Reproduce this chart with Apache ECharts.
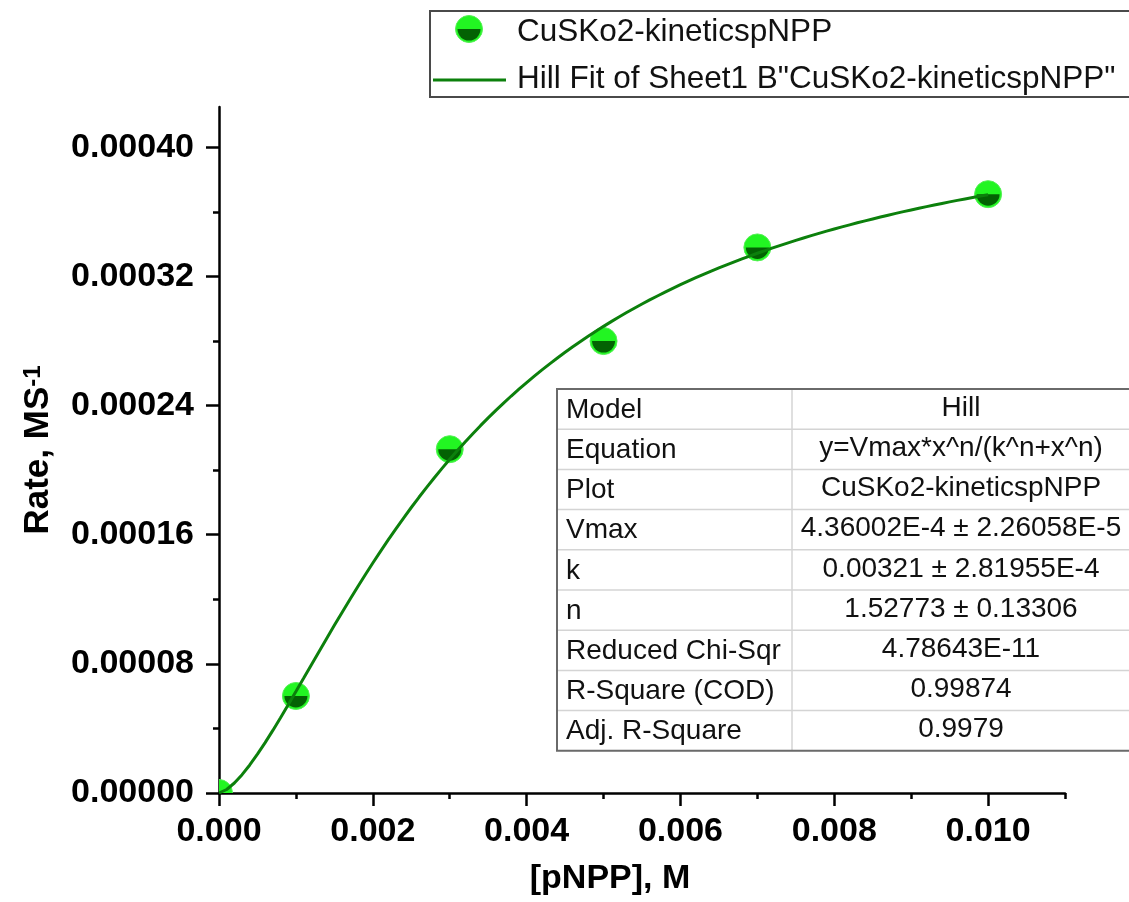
<!DOCTYPE html>
<html>
<head>
<meta charset="utf-8">
<title>Hill fit – CuSKo2 kinetics with pNPP</title>
<script src="https://cdn.jsdelivr.net/npm/echarts@6/dist/echarts.min.js"></script>
<style>
  html, body { margin: 0; padding: 0; background: #fff; }
  #chart { width: 1129px; height: 902px; }
</style>
</head>
<body>
<div id="chart"></div>
<script>
// Measured substrate concentrations [pNPP] (M) and initial rates (M/s)
const substrateConc = [0, 0.001, 0.003, 0.005, 0.007, 0.010];
const rates = [0, 0.0000601, 0.000213, 0.000280, 0.000338, 0.000371];

// Hill fit parameters (y = Vmax*x^n/(k^n+x^n))
const VMAX = 4.36002e-4;
const K_HALF = 0.00321;
const HILL_N = 1.52773;
const FIT_STEP = 0.0001;

// Axis ticks and their labels
const xMajorTicks = [0, 0.002, 0.004, 0.006, 0.008, 0.010];
const xMinorTicks = [0.001, 0.003, 0.005, 0.007, 0.009, 0.011];
const xTickLabels = ['0.000', '0.002', '0.004', '0.006', '0.008', '0.010'];
const yMajorTicks = [0, 0.00008, 0.00016, 0.00024, 0.00032, 0.00040];
const yMinorTicks = [0.00004, 0.00012, 0.00020, 0.00028, 0.00036];
const yTickLabels = ['0.00000', '0.00008', '0.00016', '0.00024', '0.00032', '0.00040'];

// Fit report table
const tableLabels = ['Model', 'Equation', 'Plot', 'Vmax', 'k', 'n',
  'Reduced Chi-Sqr', 'R-Square (COD)', 'Adj. R-Square'];
const tableValues = ['Hill', 'y=Vmax*x^n/(k^n+x^n)', 'CuSKo2-kineticspNPP',
  '4.36002E-4 \u00b1 2.26058E-5', '0.00321 \u00b1 2.81955E-4', '1.52773 \u00b1 0.13306',
  '4.78643E-11', '0.99874', '0.9979'];

const seriesName = 'CuSKo2-kineticspNPP';
const fitName = 'Hill Fit of Sheet1 B"CuSKo2-kineticspNPP"';

const X_MIN = 0, X_MAX = 0.011;
const Y_MIN = 0, Y_MAX = 0.000425;

const FONT = '"Liberation Sans", Arial, Helvetica, sans-serif';
const LIGHT_GREEN = '#22f522';
const DARK_GREEN = '#036203';
const LINE_GREEN = '#0c800c';

// Curve evaluated from the fitted Hill parameters
const fitCurve = [];
for (let i = 0; i <= Math.round(0.010 / FIT_STEP); i++) {
  const x = i * FIT_STEP;
  const xn = Math.pow(x, HILL_N);
  fitCurve.push([x, VMAX * xn / (Math.pow(K_HALF, HILL_N) + xn)]);
}

function labelFrom(ticks, labels) {
  return function (v) {
    for (let i = 0; i < ticks.length; i++) {
      if (Math.abs(ticks[i] - v) < 1e-12) return labels[i];
    }
    return '';
  };
}

// Half-shaded circle marker (light top, dark bottom)
function halfMarker(cx, cy, z) {
  return [
    { type: 'circle', z: z, shape: { cx: cx, cy: cy, r: 13.5 },
      style: { fill: LIGHT_GREEN, stroke: '#55f055', lineWidth: 1 } },
    { type: 'sector', z: z, shape: { cx: cx, cy: cy, r0: 0, r: 11.5, startAngle: 0, endAngle: Math.PI, clockwise: true },
      style: { fill: DARK_GREEN } }
  ];
}

// Legend box
const legendGraphics = [
  { type: 'rect', shape: { x: 430, y: 11, width: 720, height: 86 },
    style: { fill: '#fff', stroke: '#4a4a4a', lineWidth: 2 }, z: 10 }
].concat(halfMarker(469, 29, 11)).concat([
  { type: 'text', x: 517, y: 32, z: 11,
    style: { text: seriesName, font: '31.5px ' + FONT, fill: '#111', verticalAlign: 'middle' } },
  { type: 'line', shape: { x1: 433, y1: 80, x2: 506, y2: 80 }, z: 11,
    style: { stroke: LINE_GREEN, lineWidth: 3 } },
  { type: 'text', x: 517, y: 79, z: 11,
    style: { text: fitName, font: '31.5px ' + FONT, fill: '#111', verticalAlign: 'middle' } }
]);

// Fit report table
const TBL_LEFT = 557, TBL_TOP = 389, TBL_ROW = 40.2, TBL_DIV = 792, TBL_RIGHT = 1131;
const tableGraphics = [];
const tblBottom = TBL_TOP + TBL_ROW * tableLabels.length;
tableGraphics.push({ type: 'rect', z: 10,
  shape: { x: TBL_LEFT, y: TBL_TOP, width: TBL_RIGHT - TBL_LEFT, height: tblBottom - TBL_TOP },
  style: { fill: '#fff', stroke: null } });
for (let i = 1; i < tableLabels.length; i++) {
  const y = TBL_TOP + TBL_ROW * i;
  tableGraphics.push({ type: 'line', z: 11, shape: { x1: TBL_LEFT, y1: y, x2: TBL_RIGHT, y2: y },
    style: { stroke: '#d4d4d4', lineWidth: 1.5 } });
}
tableGraphics.push({ type: 'line', z: 11, shape: { x1: TBL_DIV, y1: TBL_TOP, x2: TBL_DIV, y2: tblBottom },
  style: { stroke: '#d4d4d4', lineWidth: 1.5 } });
tableGraphics.push({ type: 'polyline', z: 12,
  shape: { points: [[TBL_RIGHT, TBL_TOP], [TBL_LEFT, TBL_TOP], [TBL_LEFT, tblBottom], [TBL_RIGHT, tblBottom]] },
  style: { stroke: '#6a6a6a', lineWidth: 2, fill: null } });
tableLabels.forEach(function (lab, i) {
  const cy = TBL_TOP + TBL_ROW * (i + 0.5);
  tableGraphics.push({ type: 'text', x: 566, y: cy + 1, z: 12,
    style: { text: lab, font: '28px ' + FONT, fill: '#111', verticalAlign: 'middle' } });
  tableGraphics.push({ type: 'text', x: 961, y: cy - 1, z: 12,
    style: { text: tableValues[i], font: '28px ' + FONT, fill: '#111', align: 'center', verticalAlign: 'middle' } });
});

const axisLabelStyle = { fontFamily: FONT, fontWeight: 'bold', fontSize: 34, color: '#000' };

const option = {
  backgroundColor: '#fff',
  animation: false,
  grid: { left: 219, right: 64, top: 107, bottom: 109, containLabel: false, outerBoundsMode: 'none' },
  xAxis: [
    {
      type: 'value', min: X_MIN, max: X_MAX,
      name: '[pNPP], M', nameLocation: 'middle', nameGap: 69,
      nameTextStyle: { fontFamily: FONT, fontWeight: 'bold', fontSize: 34, color: '#000', padding: [0, 64, 0, 0] },
      axisLine: { show: true, onZero: false, lineStyle: { color: '#000', width: 2.5 } },
      axisTick: { show: true, inside: false, length: 13, lineStyle: { color: '#000', width: 2.5 },
        customValues: xMajorTicks },
      axisLabel: Object.assign({ margin: 22, customValues: xMajorTicks,
        formatter: labelFrom(xMajorTicks, xTickLabels) }, axisLabelStyle),
      splitLine: { show: false }
    },
    {
      type: 'value', min: X_MIN, max: X_MAX, position: 'bottom',
      axisLine: { show: false },
      axisTick: { show: true, inside: false, length: 6, lineStyle: { color: '#000', width: 2.5 },
        customValues: xMinorTicks },
      axisLabel: { show: false },
      splitLine: { show: false }
    }
  ],
  yAxis: [
    {
      type: 'value', min: Y_MIN, max: Y_MAX,
      name: '{t|Rate, MS}{s|-1}', nameLocation: 'middle', nameGap: 163, nameRotate: 90,
      nameTextStyle: {
        rich: {
          t: { fontFamily: FONT, fontWeight: 'bold', fontSize: 35, color: '#000' },
          s: { fontFamily: FONT, fontWeight: 'bold', fontSize: 24, color: '#000', verticalAlign: 'top' }
        }
      },
      axisLine: { show: true, onZero: false, lineStyle: { color: '#000', width: 2.5 } },
      axisTick: { show: true, inside: false, length: 13, lineStyle: { color: '#000', width: 2.5 },
        customValues: yMajorTicks },
      axisLabel: Object.assign({ margin: 25, customValues: yMajorTicks,
        formatter: labelFrom(yMajorTicks, yTickLabels) }, axisLabelStyle),
      splitLine: { show: false }
    },
    {
      type: 'value', min: Y_MIN, max: Y_MAX, position: 'left',
      axisLine: { show: false },
      axisTick: { show: true, inside: false, length: 6, lineStyle: { color: '#000', width: 2.5 },
        customValues: yMinorTicks },
      axisLabel: { show: false },
      splitLine: { show: false }
    }
  ],
  series: [
    {
      name: seriesName,
      type: 'custom',
      clip: true,
      z: 2,
      data: substrateConc.map(function (x, i) { return [x, rates[i]]; }),
      encode: { x: 0, y: 1 },
      renderItem: function (params, api) {
        const p = api.coord([api.value(0), api.value(1)]);
        return { type: 'group', children: halfMarker(p[0], p[1], 0) };
      }
    },
    {
      name: fitName,
      type: 'line',
      z: 3,
      showSymbol: false,
      symbol: 'none',
      clip: true,
      data: fitCurve,
      lineStyle: { color: LINE_GREEN, width: 3 }
    }
  ],
  graphic: legendGraphics.concat(tableGraphics)
};

const chart = echarts.init(document.getElementById('chart'), null, { renderer: 'canvas' });
chart.setOption(option);
</script>
</body>
</html>
